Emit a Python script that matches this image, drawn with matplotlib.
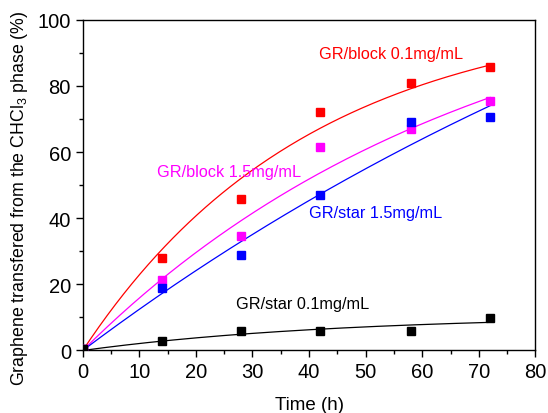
import numpy as np
import matplotlib
matplotlib.use("Agg")
import matplotlib.pyplot as plt
from matplotlib.ticker import MultipleLocator

plt.rcParams['font.family'] = ['Liberation Sans', 'DejaVu Sans']
plt.rcParams['mathtext.fontset'] = 'custom'
plt.rcParams['mathtext.rm'] = 'Liberation Sans'
plt.rcParams['mathtext.it'] = 'Liberation Sans:italic'

# time points (h)
time_h = [0, 14, 28, 42, 58, 72]

# graphene transferred (%)
block_01 = [0.5, 27.9, 45.8, 72.0, 80.9, 85.6]
block_15 = [0.5, 21.3, 34.7, 61.6, 67.1, 75.3]
star_15 = [0.5, 18.9, 28.9, 47.0, 69.1, 70.5]
star_01 = [0.5, 3.0, 6.0, 5.8, 5.9, 9.7]

# fitted curves y = A*(1-exp(-k*t)), parameters
fit_amp = [103.4, 119.0, 198.0, 10.7]
fit_rate = [0.025, 0.0143, 0.0065, 0.022]

labels = ['GR/block 0.1mg/mL', 'GR/block 1.5mg/mL', 'GR/star 1.5mg/mL', 'GR/star 0.1mg/mL']
colors = ['red', 'magenta', 'blue', 'black']
label_x = [41.7, 13.1, 40.0, 27.1]
label_y = [89.9, 54.0, 41.8, 14.3]
data = [block_01, block_15, star_15, star_01]

fig = plt.figure(figsize=(5.48, 4.14), dpi=100)
ax = fig.add_axes([0.151, 0.151, 0.826, 0.799])

tt = np.linspace(0, max(time_h), 200)
for A, k, c in zip(fit_amp, fit_rate, colors):
    ax.plot(tt, A * (1 - np.exp(-k * tt)), color=c, lw=0.9)
for y, c, lab, lx, ly in zip(data, colors, labels, label_x, label_y):
    ax.plot(time_h, y, 's', color=c, ms=6, mec=c, zorder=3)
    ax.text(lx, ly, lab, color=c, fontsize=11.7, va='center', ha='left')

ax.set_xlim(0, 80)
ax.set_ylim(0, 100)
ax.xaxis.set_major_locator(MultipleLocator(10))
ax.xaxis.set_minor_locator(MultipleLocator(5))
ax.yaxis.set_major_locator(MultipleLocator(20))
ax.yaxis.set_minor_locator(MultipleLocator(10))
ax.tick_params(which='both', direction='out', top=False, right=False,
               labelsize=14.5, width=1)
ax.tick_params(which='major', length=5)
ax.tick_params(which='minor', length=3)
for s in ax.spines.values():
    s.set_linewidth(1)

ax.set_xlabel('Time (h)', fontsize=13.5)
ax.xaxis.set_label_coords(0.5, -0.138)
ax.set_ylabel('Graphene transfered from the CHCl$_3$ phase (%)', fontsize=12.8)
ax.yaxis.set_label_coords(-0.117, 0.462)

fig.savefig('out.png', dpi=100)
